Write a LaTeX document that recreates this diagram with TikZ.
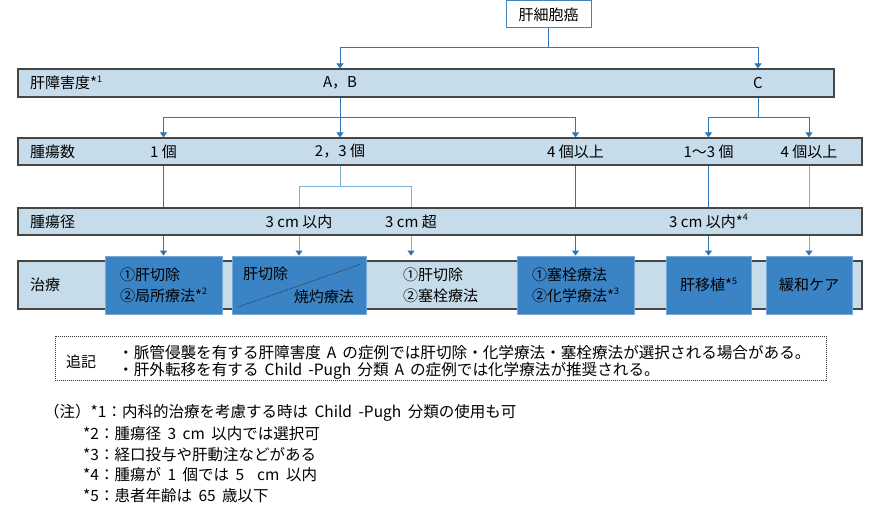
\documentclass[tikz,border=0pt]{standalone}
\usepackage{fontspec}
\setmainfont{Noto Sans CJK JP}
\usetikzlibrary{arrows.meta,backgrounds}
\definecolor{barfill}{RGB}{198,220,234}
\definecolor{barline}{RGB}{70,70,70}
\definecolor{boxfill}{RGB}{58,131,196}
\definecolor{boxline}{RGB}{120,170,215}
\definecolor{conn}{RGB}{46,117,182}
\definecolor{connl}{RGB}{125,178,214}
\definecolor{topline}{RGB}{70,130,180}
\newcommand\supn[1]{\raisebox{0.45em}{\fontsize{9}{9}\selectfont #1}}
\newcommand\bulfont{\fontsize{15.6}{21}\selectfont\spaceskip=6pt\relax}
\newcommand\fnfont{\fontsize{15.5}{21}\selectfont\spaceskip=6.5pt\relax}
\begin{document}
\begin{tikzpicture}[x=1pt,y=-1pt,
  every node/.style={font=\fontsize{15}{21}\selectfont, inner sep=0pt},
  bar/.style={draw=barline, fill=barfill, line width=1.2pt, rectangle},
  tbox/.style={draw=boxline, fill=boxfill, line width=0.8pt, rectangle, align=left, minimum height=58},
  lbl/.style={anchor=west},
  bullet/.style={anchor=west},
  fnote/.style={anchor=west},
  link/.style={draw=conn, line width=1pt},
  linka/.style={link, -{Triangle[width=7pt,length=5pt]}},
  linkl/.style={draw=connl, line width=1pt},
  linkla/.style={linkl, -{Triangle[width=7pt,length=5pt,color=conn]}},
  diag/.style={draw=black!80, line width=0.7pt, dash pattern=on 1pt off 1pt},
  notebox/.style={draw=black!80, line width=0.8pt, dash pattern=on 1pt off 1pt}
]
\useasboundingbox (0,0) rectangle (879,510);

% helper levels
\coordinate (y48) at (0,48);
\coordinate (y118) at (0,118);
\coordinate (y187) at (0,187);

% top box
\node[draw=topline, fill=white, line width=1pt, minimum width=85, minimum height=27] (top) at (548.5,14.5) {肝細胞癌};

% bars
\node[bar, minimum width=816, minimum height=28] (r1) at (426,83) {};
\node[bar, minimum width=844, minimum height=27] (r2) at (440,151.5) {};
\node[bar, minimum width=844, minimum height=27] (r3) at (440,221.5) {};
\node[bar, minimum width=844, minimum height=48] (r4) at (440,285) {};

% row labels
\node[lbl] (l1) at (30,83) {肝障害度*\supn{1}};
\node[lbl] (l2) at (30,151.5) {腫瘍数};
\node[lbl] (l3) at (30,221.5) {腫瘍径};
\node[lbl] (l4) at (30,285) {治療};

% row 1
\node (ab) at (340,83) {A，B};
\node (c) at (758,83) {C};

% row 2
\node (n1) at (163.5,151.5) {1 個};
\node (n23) at (340,151.5) {2，3 個};
\node (n4) at (575.5,151.5) {4 個以上};
\node (n13) at (708.5,151.5) {1〜3 個};
\node (n4c) at (809,151.5) {4 個以上};

% row 3
\node (s1) at (299,221.5) {3 cm 以内};
\node (s2) at (411,221.5) {3 cm 超};
\node (s3) at (708.5,221.5) {3 cm 以内*\supn{4}};

% treatments
\node[tbox, minimum width=117] (t1) at (163.5,285) {①肝切除\\②局所療法*\supn{2}};
\node[tbox, minimum width=134] (t2) at (299,285) {};
\node[lbl] (t2a) at (243,274) {肝切除};
\node[anchor=east] (t2b) at (354,297) {焼灼療法};
\draw[diag] (238,307) -- (361,264);
\node[lbl, align=left] (t3) at (403,285) {①肝切除\\②塞栓療法};
\node[tbox, minimum width=117] (t4) at (575.5,285) {①塞栓療法\\②化学療法*\supn{3}};
\node[tbox, minimum width=85] (t5) at (708.5,285) {肝移植*\supn{5}};
\node[tbox, minimum width=86] (t6) at (809,285) {緩和ケア};

% connectors
\draw[link] (top.south) -- (top.south |- y48);
\draw[linka] (top.south |- y48) -| (ab |- r1.north);
\draw[linka] (top.south |- y48) -| (c |- r1.north);

\draw[link] (r1.south -| ab) -- (ab |- y118);
\draw[linka] (ab |- y118) -| (n1 |- r2.north);
\draw[linka] (ab |- y118) -- (n23 |- r2.north);
\draw[linka] (ab |- y118) -| (n4 |- r2.north);
\draw[link] (r1.south -| c) -- (c |- y118);
\draw[linka] (c |- y118) -| (n13 |- r2.north);
\draw[linka] (c |- y118) -| (n4c |- r2.north);

\begin{scope}[on background layer]
\draw[linka] (r2.south -| n1) -- (t1.north);
\draw[linkl] (r2.south -| n23) -- (n23 |- y187);
\draw[linkla] (n23 |- y187) -| (t2.north);
\draw[linkla] (n23 |- y187) -| (s2 |- t2.north);
\draw[linka] (r2.south -| n4) -- (t4.north);
\draw[linka] (r2.south -| n13) -- (t5.north);
\draw[linkla] (r2.south -| n4c) -- (t6.north);
\end{scope}

% note box
\node[notebox, minimum width=771, minimum height=44] (note) at (440.5,358) {};
\node (tsuiki) at (81,362) {追記};
\node[bullet] (b1) at (118,353) {\bulfont ・脈管侵襲を有する肝障害度 A の症例では肝切除・化学療法・塞栓療法が選択される場合がある。};
\node[bullet] (b2) at (118,371) {\bulfont ・肝外転移を有する Child -Pugh 分類 A の症例では化学療法が推奨される。};

% footnotes
\node[fnote] (f1) at (44,413) {\fnfont （注）*1：内科的治療を考慮する時は Child -Pugh 分類の使用も可};
\node[fnote] (f2) at (83,434) {\fnfont *2：腫瘍径 3 cm 以内では選択可};
\node[fnote] (f3) at (83,455) {\fnfont *3：経口投与や肝動注などがある};
\node[fnote] (f4) at (83,475) {\fnfont *4：腫瘍が 1 個では 5 \ cm 以内};
\node[fnote] (f5) at (83,496) {\fnfont *5：患者年齢は 65 歳以下};
\end{tikzpicture}
\end{document}
